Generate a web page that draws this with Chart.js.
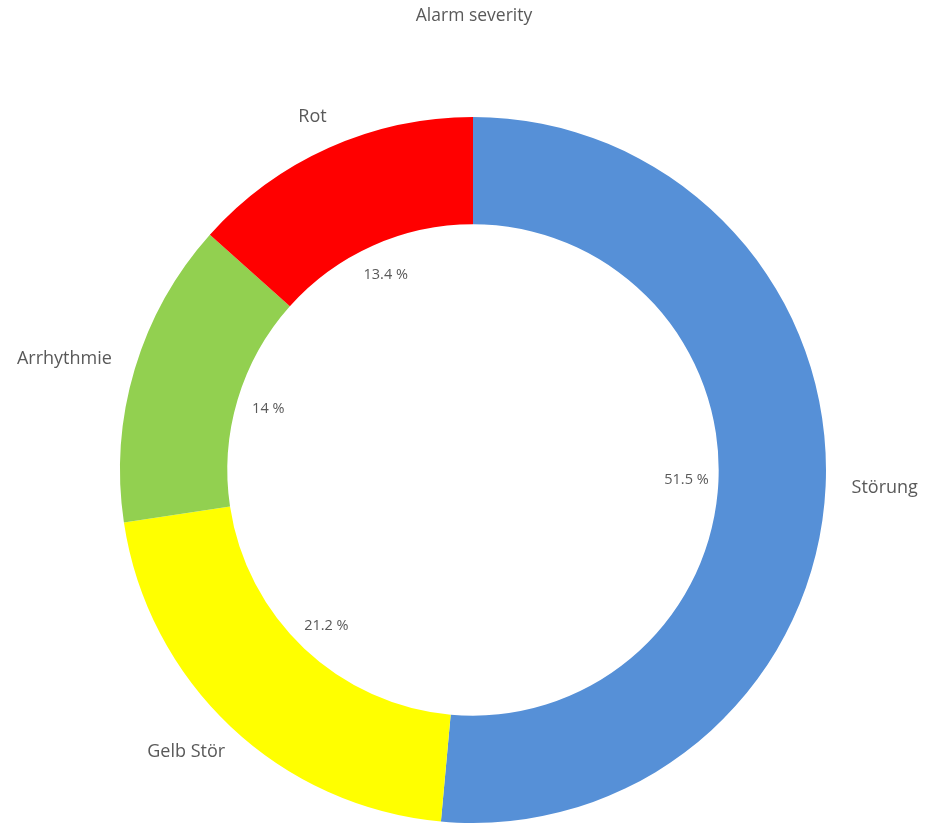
<!DOCTYPE html>
<html>
<head>
<meta charset="utf-8">
<script src="https://cdn.jsdelivr.net/npm/chart.js@4.4.1/dist/chart.umd.min.js"></script>
<style>
  html, body { margin: 0; padding: 0; background: #fff; }
  #wrap { width: 925px; height: 824px; position: relative; }
</style>
</head>
<body>
<div id="wrap"><canvas id="alarmChart"></canvas></div>
<script>
// Daten
const categories = ['Störung', 'Gelb Stör', 'Arrhythmie', 'Rot'];
const shares = [51.5, 21.2, 14, 13.4];
const sliceColors = ['#5690d7', '#ffff00', '#92d050', '#ff0000'];
const chartTitle = 'Alarm severity';

const fontFamily = '"Open Sans", "Noto Sans", sans-serif';

// Beschriftungen: Kategorie aussen, Prozent innen
const labelPlugin = {
    id: 'sliceLabels',
    afterDraw(chart) {
        const ctx = chart.ctx;
        const meta = chart.getDatasetMeta(0);
        ctx.save();

        // Titel
        ctx.fillStyle = '#595959';
        ctx.font = '17.5px ' + fontFamily;
        ctx.textAlign = 'center';
        ctx.textBaseline = 'middle';
        ctx.fillText(chartTitle, 474, 16);

        meta.data.forEach((arc, i) => {
            const mid = (arc.startAngle + arc.endAngle) / 2;
            const cos = Math.cos(mid), sin = Math.sin(mid);
            const cx = arc.x, cy = arc.y;

            // Prozent im Innenkreis
            ctx.font = '14.5px ' + fontFamily;
            ctx.fillStyle = '#595959';
            ctx.textAlign = 'center';
            ctx.textBaseline = 'middle';
            const rIn = arc.innerRadius - 32;
            ctx.fillText(shares[i] + ' %', cx + rIn * cos, cy + rIn * sin);

            // Kategorie aussen
            ctx.font = '18px ' + fontFamily;
            const w = ctx.measureText(categories[i]).width;
            const rOut = arc.outerRadius + 26;
            const x = cx + rOut * cos + (w / 2) * cos;
            const y = cy + rOut * sin + 8 * sin;
            ctx.fillText(categories[i], x, y);
        });
        ctx.restore();
    }
};

const ctx = document.getElementById('alarmChart').getContext('2d');

new Chart(ctx, {
    type: 'doughnut',
    data: {
        labels: categories,
        datasets: [{
            data: shares,
            backgroundColor: sliceColors,
            borderWidth: 0
        }]
    },
    options: {
        responsive: true,
        maintainAspectRatio: false,
        animation: false,
        cutout: '69.6%',
        layout: {
            padding: { top: 117, bottom: 1, left: 120, right: 99 }
        },
        plugins: {
            legend: { display: false },
            title: { display: false },
            tooltip: { enabled: false }
        }
    },
    plugins: [labelPlugin]
});
</script>
</body>
</html>
